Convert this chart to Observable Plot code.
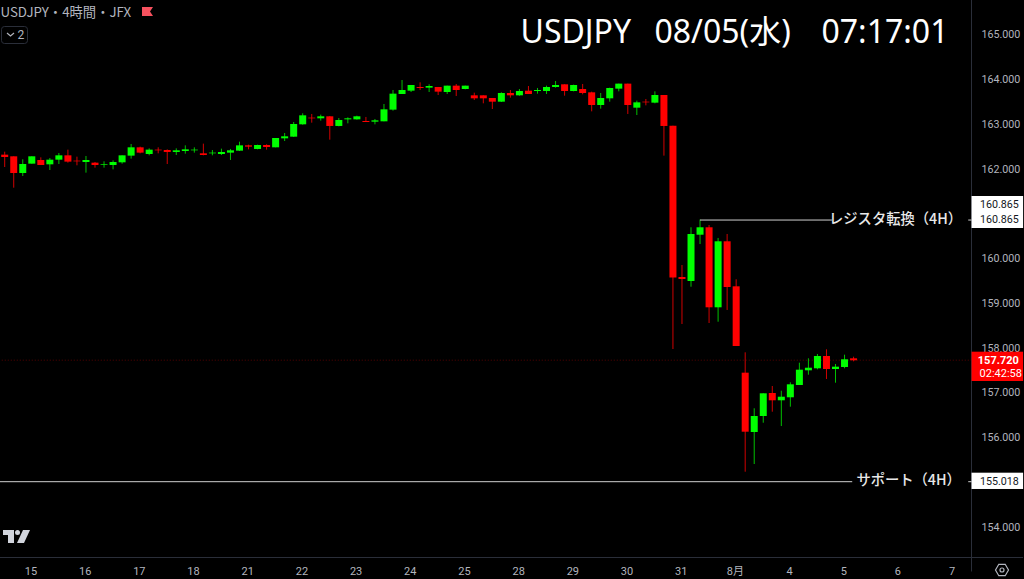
<!DOCTYPE html>
<html lang="ja">
<head>
<meta charset="utf-8">
<script src="https://cdn.jsdelivr.net/npm/d3@7"></script>
<script src="https://cdn.jsdelivr.net/npm/@observablehq/plot@0.6"></script>
<style>
html,body{margin:0;padding:0;background:#000;overflow:hidden}
#wrap{position:relative;width:1024px;height:579px;background:#000}
#wrap svg{display:block}
.ov{position:absolute}
</style>
</head>
<body>
<div id="wrap"></div>
<script>
// Candles, 4-hour bars, in price units
const open=[162.315,162.278,161.905,162.114,162.196,162.099,162.203,162.300,162.181,162.151,162.136,162.084,162.084,162.144,162.293,162.479,162.330,162.427,162.419,162.375,162.397,162.412,162.345,162.345,162.330,162.360,162.404,162.523,162.442,162.531,162.479,162.680,162.717,162.993,163.142,163.127,163.172,162.956,163.104,163.104,163.067,163.052,163.060,163.321,163.671,163.745,163.827,163.812,163.827,163.715,163.857,163.782,163.641,163.641,163.581,163.499,163.693,163.641,163.745,163.738,163.738,163.827,163.887,163.738,163.782,163.708,163.425,163.574,163.790,163.902,163.365,163.499,163.477,163.648,162.962,159.581,159.492,160.526,160.692,158.904,160.379,159.373,157.443,156.117,156.475,156.989,156.826,156.893,157.168,157.496,157.541,157.816,157.525,157.570,157.764];
const high=[162.382,162.278,162.211,162.278,162.255,162.240,162.352,162.427,162.270,162.285,162.151,162.166,162.188,162.300,162.553,162.494,162.456,162.479,162.434,162.456,162.523,162.479,162.561,162.419,162.449,162.442,162.605,162.538,162.538,162.546,162.687,162.799,163.045,163.239,163.224,163.209,163.179,163.134,163.149,163.186,163.157,163.112,163.447,163.760,163.983,163.872,163.931,163.887,163.827,163.857,163.894,163.857,163.700,163.641,163.581,163.708,163.760,163.782,163.849,163.805,163.857,163.961,163.887,163.879,163.894,163.723,163.693,163.812,163.902,163.902,163.522,163.559,163.730,163.648,162.962,159.849,160.692,160.865,160.743,160.453,160.542,159.530,157.898,156.647,156.982,157.145,157.040,157.228,157.666,157.764,157.860,157.965,157.637,157.845,157.800];
const low=[162.039,161.577,161.838,162.114,162.084,161.972,162.106,162.136,162.077,161.913,162.025,162.025,161.987,162.114,162.226,162.345,162.300,162.345,162.106,162.307,162.337,162.360,162.300,162.300,162.307,162.196,162.397,162.434,162.434,162.427,162.479,162.620,162.710,162.985,163.030,163.075,162.650,162.948,163.015,163.097,163.045,162.993,163.060,163.298,163.671,163.715,163.760,163.715,163.648,163.671,163.626,163.775,163.537,163.462,163.335,163.492,163.589,163.633,163.671,163.678,163.671,163.812,163.633,163.730,163.663,163.283,163.343,163.499,163.730,163.224,163.201,163.417,163.462,162.293,157.972,158.531,159.364,160.318,158.553,158.582,158.844,158.039,155.230,155.402,156.325,156.571,156.251,156.683,157.168,157.398,157.518,157.302,157.219,157.541,157.697];
const close=[162.263,161.905,162.106,162.278,162.084,162.203,162.300,162.159,162.166,162.196,162.084,162.099,162.151,162.300,162.479,162.360,162.427,162.412,162.375,162.412,162.434,162.427,162.307,162.360,162.375,162.412,162.523,162.494,162.531,162.486,162.687,162.725,163.000,163.194,163.127,163.172,162.956,163.090,163.127,163.172,163.045,163.082,163.328,163.678,163.760,163.872,163.805,163.849,163.723,163.857,163.760,163.857,163.574,163.574,163.499,163.693,163.641,163.738,163.671,163.760,163.827,163.872,163.738,163.872,163.693,163.425,163.581,163.805,163.902,163.425,163.484,163.484,163.648,162.956,159.570,159.536,160.542,160.692,158.904,160.379,159.358,158.039,156.124,156.475,156.982,156.826,156.906,157.183,157.510,157.554,157.816,157.525,157.577,157.742,157.720];

// Axis ticks
const priceTicks=[165,164,163,162,160,159,158,157,156,154];
const dayBars=[3,9,15,21,27,33,39,45,51,57,63,69,75,81,87,93,99,105];
const dayLabels=["15","16","17","18","21","22","23","24","25","28","29","30","31","8月","4","5","6","7"];

// Annotations
const resistance=160.865, support=155.018, lastPrice=157.72;
const lineSegments=[
  {x1:77,x2:91.6,y:resistance},
  {x1:106.7,x2:107.06,y:resistance},
  {x1:-0.6,x2:93.85,y:support},
  {x1:106.7,x2:107.06,y:support}
];
const labelBoxes=[
  {y1:160.676,y2:161.391,fill:"#ffffff"},
  {y1:154.844,y2:155.208,fill:"#ffffff"},
  {y1:157.257,y2:157.912,fill:"#ff0000"}
];
const whiteBoxLabels=[
  {y:161.215,t:"160.865"},
  {y:160.865,t:"160.865"},
  {y:155.018,t:"155.018"}
];
const noteLabels=[
  {x:98.65,y:resistance,t:"レジスタ転換（4H）"},
  {x:100.1,y:support,t:"サポート（4H）"}
];
const clockParts=["USDJPY","08/05(水)","07:17:01"];
const clockStart=[520,654,821];

const bars=open.map((o,i)=>({i,o,h:high[i],l:low[i],c:close[i],up:close[i]>=o}));
const axisColor="#2a2e39", tickColor="#b2b5be";
const sans="Roboto, 'Noto Sans CJK JP', sans-serif";
const jp="'Noto Sans CJK JP', sans-serif";
const head="'Noto Sans', 'Noto Sans CJK JP', sans-serif";
const xRight=107.06, xBoxL=107.12, xBoxR=112.83, xText=112.3;

const chart=Plot.plot({
  width:1024,height:579,
  marginTop:0,marginLeft:0,marginRight:53,marginBottom:22,
  style:{background:"#000",fontFamily:sans},
  x:{type:"linear",domain:[-0.465,xRight],axis:null},
  y:{type:"linear",domain:[153.324,165.771],axis:null},
  marks:[
    Plot.axisY(priceTicks,{anchor:"right",tickSize:0,tickPadding:10,tickFormat:d=>d.toFixed(3),fontSize:10.7,color:tickColor,label:null,fontFamily:sans}),
    Plot.axisX(dayBars,{anchor:"bottom",tickSize:0,tickPadding:10,dx:-0.8,tickFormat:(d,i)=>dayLabels[i],fontSize:11,color:tickColor,label:null,fontFamily:sans}),
    Plot.ruleY([153.324],{x1:-0.6,x2:xBoxR,stroke:axisColor}),
    Plot.ruleX([xRight],{y1:153.0,y2:165.771,stroke:axisColor}),
    Plot.ruleY([lastPrice],{x1:-0.6,x2:xRight,stroke:"#ff0000",strokeOpacity:0.35,strokeDasharray:"1,2",dy:-0.6}),
    Plot.ruleX(bars,{x:"i",y1:"l",y2:"h",stroke:d=>d.up?"#00c000":"#d00000",strokeWidth:1}),
    Plot.ruleX(bars,{x:"i",y1:"o",y2:"c",stroke:d=>d.up?"#00ff00":"#ff0000",strokeWidth:7}),
    Plot.link(lineSegments,{x1:"x1",x2:"x2",y1:"y",y2:"y",stroke:"#d0d0d0",strokeWidth:1}),
    Plot.text(noteLabels,{x:"x",y:"y",text:"t",fill:"#e8e8e8",fontSize:14.3,fontWeight:500,fontFamily:jp,textAnchor:"middle",lineAnchor:"middle",dy:-1}),
    Plot.rect(labelBoxes,{x1:xBoxL,x2:xBoxR,y1:"y1",y2:"y2",fill:"fill"}),
    Plot.text(whiteBoxLabels,{x:xText,y:"y",text:"t",fill:"#131722",fontSize:10.7,fontFamily:sans,textAnchor:"end",lineAnchor:"middle"}),
    Plot.text(["157.720"],{x:xText,y:[lastPrice],fill:"#ffffff",fontWeight:700,fontSize:11,fontFamily:sans,textAnchor:"end",lineAnchor:"middle"}),
    Plot.text(["02:42:58"],{x:112.65,y:[157.43],fill:"#ffffff",fontSize:11,fontFamily:sans,textAnchor:"end",lineAnchor:"middle"}),
    ...clockParts.map((t,i)=>Plot.text([t],{frameAnchor:"top-left",dx:clockStart[i],dy:32,fill:"#ffffff",fontSize:32,fontFamily:head,lineAnchor:"middle",textAnchor:"start"})),
    Plot.text(["USDJPY・4時間・JFX"],{frameAnchor:"top-left",dx:0,dy:12,fill:tickColor,fontSize:13.3,fontFamily:jp,lineAnchor:"middle",textAnchor:"start"}),
    Plot.text(["2"],{frameAnchor:"top-left",dx:17,dy:35,fill:tickColor,fontSize:12,fontFamily:sans,lineAnchor:"middle",textAnchor:"start"})
  ]
});
const wrap=document.getElementById("wrap");
wrap.appendChild(chart);
wrap.insertAdjacentHTML("beforeend",`
<svg class="ov" style="left:0;top:0;pointer-events:none" width="1024" height="579" viewBox="0 0 1024 579">
  <path d="M142 7h11l-3 4.500 3 4.500h-11z" fill="#f7525f"/>
  <rect x="1.500" y="26.500" width="26" height="17" rx="3" fill="none" stroke="#2a2e39"/>
  <path d="M7 33l3.500 3 3.500-3" fill="none" stroke="#b2b5be" stroke-width="1.200"/>
  <g fill="#d1d4dc">
    <path d="M3 530h11v13h-6v-8h-5z"/>
    <circle cx="17.500" cy="532.500" r="2.500"/>
    <path d="M23 530h7l-6 13h-7z"/>
  </g>
  <g fill="none" stroke="#b2b5be" stroke-width="1.200">
    <path d="M995.500 570l3.300-5.700h6.400l3.300 5.700-3.300 5.700h-6.400z"/>
    <circle cx="1002" cy="570" r="2"/>
  </g>
</svg>`);
</script>
</body>
</html>
